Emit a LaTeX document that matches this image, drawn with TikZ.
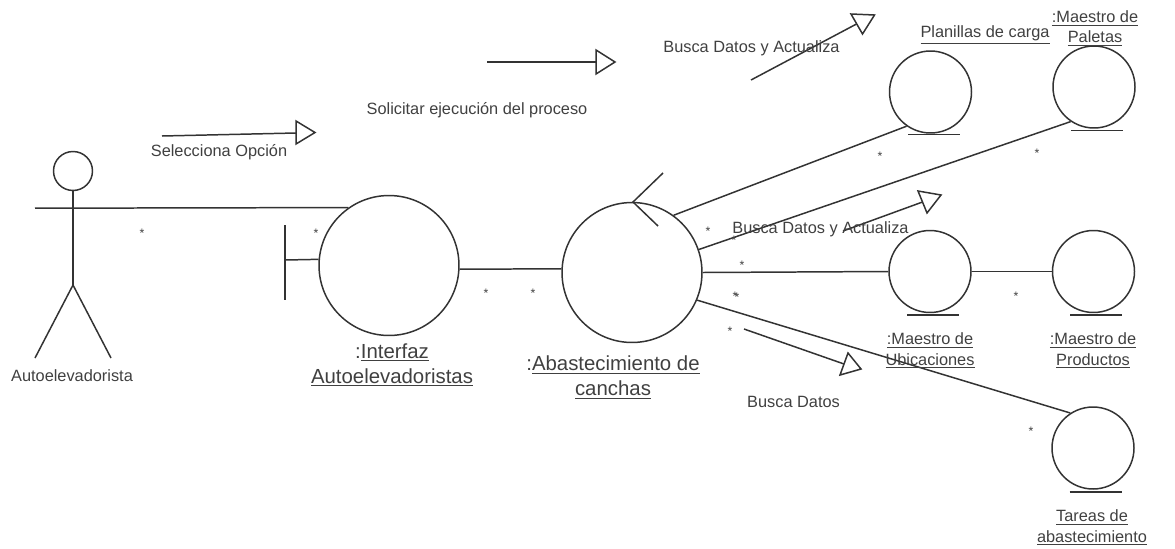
\documentclass[tikz,border=0pt]{standalone}
\usepackage{fontspec}
\setmainfont{Liberation Sans}
\tikzset{
  umlline/.style={line width=0.85pt,draw=color1},
  entity/.style={circle,draw=color1,line width=0.85pt,inner sep=0pt,minimum size=1.64cm},
  bigobject/.style={circle,draw=color1,line width=0.85pt,inner sep=0pt,minimum size=2.8cm},
  smalltext/.style={text=color2,font=\fontsize{9.3}{11.5}\selectfont,align=center,inner sep=0pt},
  bigtext/.style={text=color2,font=\fontsize{11.6}{14.2}\selectfont,align=center,inner sep=0pt},
  star/.style={text=color2,font=\fontsize{7}{7}\selectfont,inner sep=0pt},
  openhead/.style={line width=0.85pt,draw=color1,fill=white}
}
\begin{document}
\begin{tikzpicture}[x=0.02cm,y=-0.02cm]
\definecolor{color1}{rgb}{0.2,0.2,0.2}
\definecolor{color2}{rgb}{0.25,0.25,0.25}
\useasboundingbox (0,0) rectangle (1175,548);
% actor
\node[circle,draw=color1,line width=0.85pt,inner sep=0pt,minimum size=0.78cm] (Head) at (73,171) {};
\coordinate[] (Hip) at (73,285);
\coordinate[] (ArmL) at (35,208.2);
\coordinate[] (FootL) at (35,358);
\coordinate[] (FootR) at (111,358);
\draw[umlline] (Head.south)--(Hip);
\draw[umlline] (FootL)--(Hip)--(FootR);
% objects
\node[bigobject] (Interfaz) at (389,265.5) {};
\node[bigobject] (Control) at (632,272.5) {};
\node[entity] (Planillas) at (930.5,92) {};
\node[entity] (Paletas) at (1094,87) {};
\node[entity] (Ubicaciones) at (930,271.5) {};
\node[entity] (Productos) at (1093.5,271.5) {};
\node[entity] (Tareas) at (1093,448) {};
% boundary and control marks
\coordinate[] (B1) at (285,225);
\coordinate[] (B2) at (285,260);
\coordinate[] (B3) at (285,300);
\draw[umlline] (B1)--(B3);
\draw[umlline] (B2)--(Interfaz.175.5);
\coordinate[] (C1) at (663,173);
\coordinate[] (C2) at (633,202);
\coordinate[] (C3) at (658,226);
\draw[umlline] (C1)--(C2)--(C3);
% entity bars
\foreach \obj/\x/\y in {Planillas/934/134.7,Paletas/1097/130.7,Ubicaciones/933/315,Productos/1096/315,Tareas/1095.5/492}{
  \coordinate[] (\obj L) at (\x-26,\y);
  \coordinate[] (\obj R) at (\x+26,\y);
  \draw[umlline] (\obj L)--(\obj R);
}
% associations
\draw[umlline] (ArmL)--(Interfaz.125);
\draw[umlline] (Interfaz.-3)--(Control.177);
\draw[umlline] (Control.54)--(Planillas.235);
\draw[umlline] (Control.19)--(Paletas.236);
\draw[umlline] (Control.0)--(Ubicaciones.180);
\draw[umlline] (Control.-23)--(Tareas.123);
\draw[umlline] (Ubicaciones.0)--(Productos.180);
% messages
\coordinate[] (M1a) at (162,136);
\coordinate[] (M1b) at (296,133);
\coordinate[] (M2a) at (487,62);
\coordinate[] (M2b) at (596,62);
\coordinate[] (M3a) at (751,80);
\coordinate[] (M3b) at (856.5,24);
\coordinate[] (M4a) at (843,231);
\coordinate[] (M4b) at (922.5,202);
\coordinate[] (M5a) at (744,329);
\coordinate[] (M5b) at (844,364);
\draw[umlline] (M1a)--(M1b);
\draw[umlline] (M2a)--(M2b);
\draw[umlline] (M3a)--(M3b);
\draw[umlline] (M4a)--(M4b);
\draw[umlline] (M5a)--(M5b);
\draw[openhead] (296,121)--(296,144)--(315,132.5)--cycle;
\draw[openhead] (596,50)--(596,74)--(615,62)--cycle;
\draw[openhead] (851,14)--(862.5,34)--(874.5,15)--cycle;
\draw[openhead] (918,191)--(927,213)--(941,195)--cycle;
\draw[openhead] (848,353)--(840,375)--(861,369)--cycle;
% labels
\node[smalltext] (LblActor) at (72,376) {Autoelevadorista};
\node[smalltext] (LblOpcion) at (219,152) {Selecciona Opción};
\node[smalltext] (LblSolicitar) at (477,110) {Solicitar ejecución del proceso};
\node[smalltext] (LblBusca1) at (751.5,48) {Busca Datos y Actualiza};
\node[smalltext] (LblBusca2) at (820.5,229) {Busca Datos y Actualiza};
\node[smalltext] (LblBusca3) at (793.5,402) {Busca Datos};
\node[bigtext] (LblInterfaz) at (392,365) {:\underline{Interfaz}\\\underline{Autoelevadoristas}};
\node[bigtext] (LblControl) at (613,377.5) {:\underline{Abastecimiento de}\\\underline{canchas}};
\node[smalltext] (LblPlanillas) at (985,35) {\underline{Planillas de carga}};
\node[smalltext] (LblPaletas) at (1095,28.5) {\underline{:Maestro de}\\\underline{Paletas}};
\node[smalltext] (LblUbicaciones) at (930,351) {\underline{:Maestro de}\\\underline{Ubicaciones}};
\node[smalltext] (LblProductos) at (1093,351) {\underline{:Maestro de}\\\underline{Productos}};
\node[smalltext] (LblTareas) at (1092,528) {\underline{Tareas de}\\\underline{abastecimiento}};
% multiplicities
\foreach \i/\x/\y in {1/142/233,2/316/233,3/486/293,4/533/293,5/708/231,6/734/240,7/742/265,8/735/296,9/737/297,10/730/331,11/880/156,12/1037/153,13/1016/296,14/1031/431}{
  \node[star] (Star\i) at (\x,\y) {*};
}
\end{tikzpicture}
\end{document}
